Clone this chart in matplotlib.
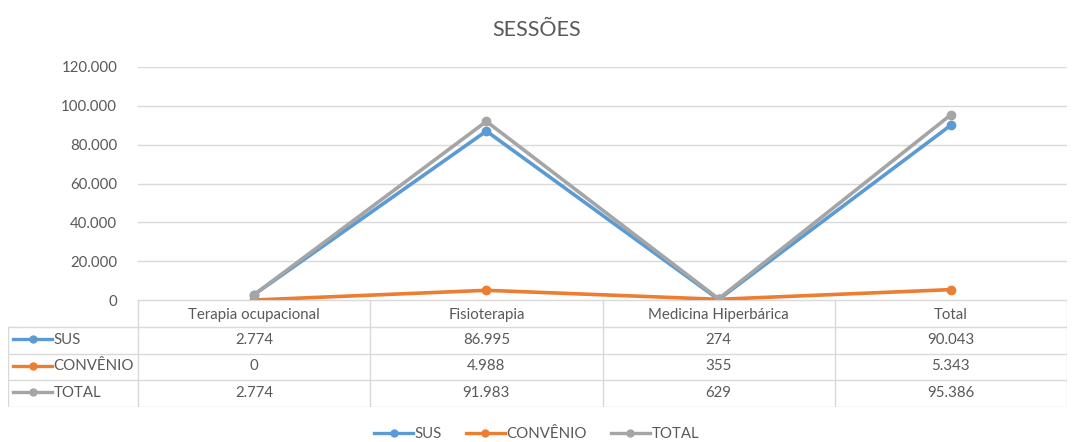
import matplotlib.pyplot as plt
from matplotlib.ticker import FuncFormatter
from matplotlib.lines import Line2D

plt.rcParams['font.family'] = ['Lato', 'DejaVu Sans']

categories = ['Terapia ocupacional', 'Fisioterapia', 'Medicina Hiperbárica', 'Total']
series_names = ['SUS', 'CONVÊNIO', 'TOTAL']
sus = [2774, 86995, 274, 90043]
convenio = [0, 4988, 355, 5343]
total = [2774, 91983, 629, 95386]
colors = ['#5B9BD5', '#ED7D31', '#A5A5A5']
y_ticks = [0, 20000, 40000, 60000, 80000, 100000, 120000]

text_col = '#595959'
grid_col = '#D9D9D9'
fs = 10.8


def fmt(v):
    return f"{int(v):,}".replace(",", ".")


W, H = 1073, 442
fig = plt.figure(figsize=(W / 100, H / 100), dpi=100)

# plot area in pixels
x0, x1 = 138, 1067
y_top, y_zero = 67, 300
ax = fig.add_axes([x0 / W, 1 - y_zero / H, (x1 - x0) / W, (y_zero - y_top) / H])

xs = list(range(len(categories)))
for vals, name, c in zip([sus, convenio, total], series_names, colors):
    ax.plot(xs, vals, color=c, lw=2.6, marker='o', ms=6, label=name, zorder=3)

ax.set_xlim(-0.5, len(categories) - 0.5)
ax.set_ylim(0, 120000)
ax.set_yticks(y_ticks)
ax.yaxis.set_major_formatter(FuncFormatter(lambda v, p: fmt(v)))
ax.set_xticks([])
ax.tick_params(axis='y', length=0, pad=15, labelsize=fs, labelcolor=text_col)
ax.grid(axis='y', color=grid_col, lw=1)
ax.set_axisbelow(True)
for s in ax.spines.values():
    s.set_visible(False)

fig.text(0.5, 1 - 30 / H, 'SESSÕES', ha='center', va='center', fontsize=15.5, color=text_col)

# data table under the plot
tb_left, tb_bottom = 8, 407
col_w = (x1 - x0) / len(categories)
lab_w = (x0 - tb_left) / col_w
tax = fig.add_axes([tb_left / W, 1 - tb_bottom / H, (x1 - tb_left) / W, (tb_bottom - y_zero) / H])
tax.set_xlim(-0.5 - lab_w, len(categories) - 0.5)
tax.set_ylim(4, 0)
tax.axis('off')

lx = -0.5 - lab_w
# horizontal lines
tax.plot([-0.5, len(categories) - 0.5], [0, 0], color=grid_col, lw=1)
for r in range(1, 5):
    tax.plot([lx, len(categories) - 0.5], [r, r], color=grid_col, lw=1)
# vertical lines
for i in range(len(categories) + 1):
    tax.plot([i - 0.5, i - 0.5], [0, 4], color=grid_col, lw=1)
tax.plot([lx, lx], [1, 4], color=grid_col, lw=1)

for i, cat in enumerate(categories):
    tax.text(i, 0.55, cat, ha='center', va='center', fontsize=fs, color=text_col)

for r, (vals, name, c) in enumerate(zip([sus, convenio, total], series_names, colors), start=1):
    ky = r + 0.45
    tax.add_line(Line2D([lx + 0.022, lx + 0.19], [ky, ky], color=c, lw=2.4))
    tax.plot([lx + 0.106], [ky], marker='o', ms=5, color=c)
    tax.text(lx + 0.195, ky + 0.03, name, ha='left', va='center', fontsize=fs, color=text_col)
    for i, v in enumerate(vals):
        tax.text(i, ky + 0.03, fmt(v), ha='center', va='center', fontsize=fs, color=text_col)

handles = [Line2D([], [], color=c, lw=2.4, marker='o', ms=5) for c in colors]
fig.legend(handles, series_names, loc='center', bbox_to_anchor=(0.5, 1 - 434 / H), ncol=3,
           frameon=False, fontsize=fs, labelcolor=text_col, handlelength=2.6,
           handletextpad=0.1, columnspacing=1.6)

fig.savefig('out.png', dpi=100, facecolor='white')
